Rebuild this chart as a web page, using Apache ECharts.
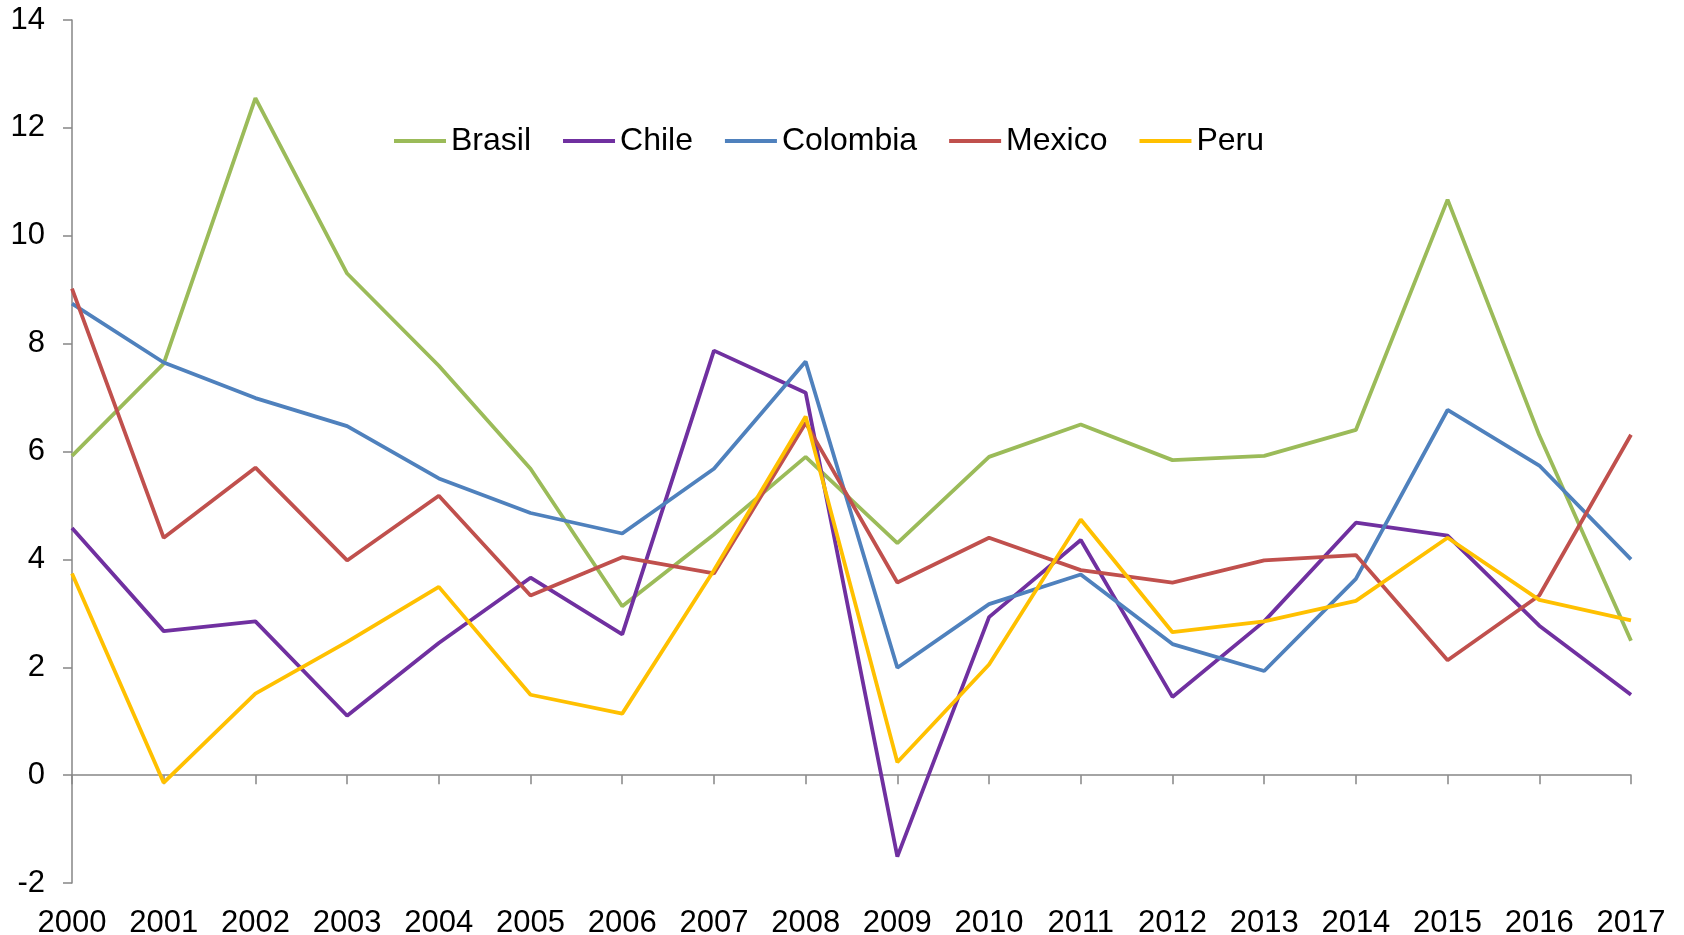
<!DOCTYPE html>
<html>
<head>
<meta charset="utf-8">
<script src="https://cdn.jsdelivr.net/npm/echarts@6/dist/echarts.min.js"></script>
<style>
  html, body { margin: 0; padding: 0; background: #fff; }
  #chart { width: 1684px; height: 935px; }
</style>
</head>
<body>
<div id="chart"></div>
<script>
var years = ['2000', '2001', '2002', '2003', '2004', '2005', '2006', '2007', '2008',
  '2009', '2010', '2011', '2012', '2013', '2014', '2015', '2016', '2017']
var brasil = [5.92, 7.63, 12.55, 9.3, 7.59, 5.68, 3.13, 4.46, 5.9, 4.3, 5.9, 6.5, 5.84, 5.92, 6.4, 10.67, 6.3, 2.49]
var chile = [4.58, 2.67, 2.85, 1.1, 2.45, 3.66, 2.61, 7.87, 7.09, -1.51, 2.93, 4.36, 1.45, 2.85, 4.68, 4.44, 2.77, 1.49]
var colombia = [8.74, 7.65, 6.99, 6.47, 5.5, 4.86, 4.48, 5.68, 7.67, 1.99, 3.17, 3.72, 2.43, 1.93, 3.64, 6.77, 5.74, 4.0]
var mexico = [9.02, 4.4, 5.7, 3.98, 5.18, 3.33, 4.04, 3.74, 6.53, 3.57, 4.4, 3.8, 3.57, 3.98, 4.08, 2.13, 3.33, 6.31]
var peru = [3.74, -0.14, 1.51, 2.47, 3.49, 1.49, 1.14, 3.8, 6.65, 0.24, 2.05, 4.74, 2.65, 2.85, 3.23, 4.4, 3.25, 2.87]

var axisGray = '#868686'
var font = 'Liberation Sans, Arial, sans-serif'

function line (name, data, color) {
  return {
    name: name,
    type: 'line',
    data: data,
    symbol: 'none',
    xAxisIndex: 0,
    lineStyle: { color: color, width: 3.8 },
    itemStyle: { color: color }
  }
}

var myChart = echarts.init(document.getElementById('chart'))
myChart.setOption({
  animation: false,
  textStyle: { fontFamily: font },
  grid: { left: 72, right: 53, top: 20, bottom: 52, outerBoundsMode: 'none', containLabel: false },
  legend: {
    left: 389,
    top: 120,
    icon: 'rect',
    itemWidth: 52,
    itemHeight: 4,
    itemGap: 32,
    textStyle: { fontSize: 32, color: '#000', fontFamily: font, padding: [0, 0, 0, 0] },
    data: ['Brasil', 'Chile', 'Colombia', 'Mexico', 'Peru']
  },
  xAxis: [
    {
      type: 'category',
      data: years,
      boundaryGap: false,
      position: 'bottom',
      axisLine: { onZero: true, lineStyle: { color: axisGray, width: 1.5 } },
      axisTick: { show: true, length: 9, lineStyle: { color: axisGray, width: 1.5 } },
      axisLabel: { show: false },
      splitLine: { show: false }
    },
    {
      type: 'category',
      data: years,
      boundaryGap: false,
      position: 'bottom',
      axisLine: { show: false, onZero: false },
      axisTick: { show: false },
      axisLabel: { show: true, margin: 25, fontSize: 31, color: '#000', fontFamily: font, interval: 0 },
      splitLine: { show: false }
    }
  ],
  yAxis: {
    type: 'value',
    min: -2,
    max: 14,
    interval: 2,
    axisLine: { show: true, lineStyle: { color: axisGray, width: 1.5 } },
    axisTick: { show: true, length: 9, lineStyle: { color: axisGray, width: 1.5 } },
    axisLabel: { margin: 27, fontSize: 31, color: '#000', fontFamily: font },
    splitLine: { show: false }
  },
  series: [
    line('Brasil', brasil, '#9BBB59'),
    line('Chile', chile, '#7030A0'),
    line('Colombia', colombia, '#4F81BD'),
    line('Mexico', mexico, '#C0504D'),
    line('Peru', peru, '#FFC000')
  ]
})
</script>
</body>
</html>
